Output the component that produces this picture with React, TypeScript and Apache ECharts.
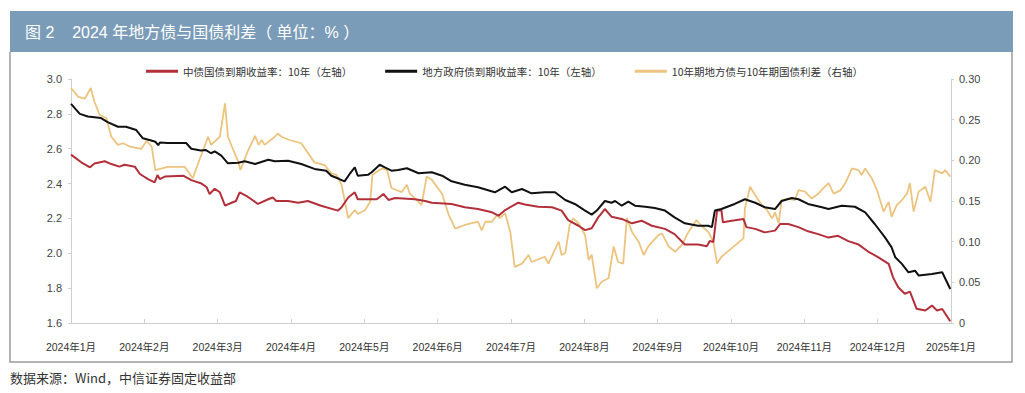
import React, { useEffect, useRef } from 'react';
import * as echarts from 'echarts';

const titleText = '图 2    2024 年地方债与国债利差（ 单位：% ）';
const footerText = '数据来源：Wind，中信证券固定收益部';

const monthLabels = [
  '2024年1月', '2024年2月', '2024年3月', '2024年4月', '2024年5月', '2024年6月', '2024年7月',
  '2024年8月', '2024年9月', '2024年10月', '2024年11月', '2024年12月', '2025年1月',
];

const seriesNames = [
  '中债国债到期收益率：10年（左轴）',
  '地方政府债到期收益率：10年（左轴）',
  '10年期地方债与10年期国债利差（右轴）',
];

// [position in months since 2024-01, value]
const chinaBond10Y: [number, number][] = [
  [0.0, 2.566], [0.14, 2.522], [0.26, 2.493], [0.32, 2.515], [0.46, 2.528], [0.55, 2.512], [0.66, 2.497],
  [0.73, 2.508], [0.87, 2.497], [0.94, 2.455], [1.05, 2.426], [1.14, 2.407], [1.18, 2.449], [1.21, 2.426],
  [1.28, 2.44], [1.53, 2.445], [1.64, 2.42], [1.78, 2.4], [1.85, 2.379], [1.89, 2.34], [1.96, 2.37],
  [2.03, 2.35], [2.1, 2.273], [2.19, 2.29], [2.25, 2.3], [2.3, 2.35], [2.39, 2.33], [2.55, 2.283],
  [2.69, 2.31], [2.75, 2.32], [2.8, 2.3], [2.96, 2.3], [3.1, 2.29], [3.23, 2.3], [3.41, 2.273],
  [3.64, 2.245], [3.69, 2.264], [3.78, 2.32], [3.87, 2.35], [3.91, 2.31], [4.05, 2.31], [4.17, 2.31],
  [4.26, 2.34], [4.33, 2.306], [4.42, 2.317], [4.69, 2.31], [4.83, 2.3], [4.92, 2.29], [5.19, 2.283],
  [5.37, 2.264], [5.55, 2.254], [5.74, 2.235], [5.83, 2.216], [5.92, 2.248], [6.1, 2.29], [6.19, 2.28],
  [6.37, 2.267], [6.56, 2.264], [6.69, 2.245], [6.78, 2.19], [6.92, 2.158], [7.01, 2.133], [7.1, 2.144],
  [7.19, 2.206], [7.28, 2.254], [7.37, 2.21], [7.51, 2.197], [7.65, 2.172], [7.78, 2.187], [7.92, 2.158],
  [8.1, 2.14], [8.23, 2.11], [8.37, 2.05], [8.55, 2.05], [8.67, 2.04], [8.71, 2.07], [8.76, 2.065],
  [8.81, 2.245], [8.87, 2.245], [8.89, 2.178], [9.01, 2.187], [9.17, 2.197], [9.21, 2.15], [9.33, 2.14],
  [9.46, 2.12], [9.6, 2.13], [9.67, 2.168], [9.78, 2.168], [9.92, 2.15], [10.05, 2.126], [10.19, 2.11],
  [10.33, 2.09], [10.46, 2.1], [10.6, 2.07], [10.74, 2.05], [10.87, 2.01], [11.01, 1.977], [11.15, 1.939],
  [11.21, 1.862], [11.28, 1.805], [11.37, 1.768], [11.44, 1.78], [11.53, 1.682], [11.65, 1.672],
  [11.74, 1.7], [11.81, 1.672], [11.88, 1.68], [11.99, 1.61],
];

const localBond10Y: [number, number][] = [
  [0.0, 2.857], [0.12, 2.8], [0.23, 2.785], [0.41, 2.776], [0.5, 2.753], [0.64, 2.726], [0.75, 2.726],
  [0.89, 2.707], [0.98, 2.66], [1.07, 2.65], [1.15, 2.64], [1.19, 2.62], [1.21, 2.635], [1.32, 2.633],
  [1.57, 2.633], [1.64, 2.6], [1.77, 2.59], [1.84, 2.592], [1.91, 2.574], [1.96, 2.585], [2.05, 2.56],
  [2.14, 2.516], [2.28, 2.52], [2.37, 2.528], [2.51, 2.512], [2.69, 2.537], [2.78, 2.528], [2.96, 2.531],
  [3.14, 2.512], [3.32, 2.484], [3.48, 2.474], [3.55, 2.445], [3.66, 2.426], [3.73, 2.413], [3.8, 2.455],
  [3.87, 2.493], [3.91, 2.445], [4.05, 2.45], [4.1, 2.465], [4.21, 2.508], [4.28, 2.493], [4.37, 2.474],
  [4.46, 2.478], [4.58, 2.488], [4.74, 2.459], [4.92, 2.465], [5.06, 2.445], [5.19, 2.413], [5.37, 2.393],
  [5.55, 2.379], [5.78, 2.35], [5.92, 2.382], [6.01, 2.35], [6.15, 2.369], [6.28, 2.344], [6.46, 2.35],
  [6.6, 2.35], [6.74, 2.306], [6.87, 2.283], [7.01, 2.245], [7.1, 2.222], [7.17, 2.245], [7.28, 2.3],
  [7.37, 2.29], [7.42, 2.3], [7.51, 2.273], [7.6, 2.296], [7.69, 2.273], [7.83, 2.267], [7.96, 2.26],
  [8.1, 2.245], [8.23, 2.206], [8.37, 2.172], [8.55, 2.158], [8.69, 2.158], [8.74, 2.15], [8.78, 2.245],
  [8.87, 2.254], [9.05, 2.283], [9.19, 2.31], [9.33, 2.29], [9.46, 2.264], [9.6, 2.254], [9.69, 2.3],
  [9.83, 2.317], [9.92, 2.31], [10.05, 2.283], [10.24, 2.264], [10.33, 2.254], [10.51, 2.273],
  [10.69, 2.267], [10.83, 2.235], [10.96, 2.168], [11.1, 2.091], [11.19, 2.034], [11.24, 1.977],
  [11.33, 1.939], [11.42, 1.891], [11.51, 1.9], [11.56, 1.872], [11.74, 1.881], [11.88, 1.891],
  [11.99, 1.795],
];

const spread10Y: [number, number][] = [
  [0.0, 0.289], [0.1, 0.278], [0.19, 0.276], [0.27, 0.289], [0.32, 0.272], [0.39, 0.256], [0.48, 0.252],
  [0.55, 0.229], [0.64, 0.219], [0.71, 0.221], [0.8, 0.217], [0.96, 0.214], [1.03, 0.224], [1.1, 0.217],
  [1.15, 0.188], [1.32, 0.192], [1.55, 0.192], [1.66, 0.178], [1.76, 0.2025], [1.87, 0.229], [1.91, 0.219],
  [2.03, 0.229], [2.1, 0.27], [2.14, 0.229], [2.28, 0.198], [2.31, 0.188], [2.41, 0.211], [2.51, 0.23],
  [2.56, 0.219], [2.6, 0.225], [2.64, 0.219], [2.78, 0.229], [2.82, 0.233], [2.87, 0.229], [2.98, 0.225],
  [3.14, 0.221], [3.32, 0.1975], [3.46, 0.194], [3.55, 0.184], [3.62, 0.182], [3.69, 0.17], [3.78, 0.129],
  [3.87, 0.139], [3.91, 0.134], [4.01, 0.139], [4.08, 0.149], [4.11, 0.182], [4.17, 0.186], [4.24, 0.19],
  [4.31, 0.188], [4.37, 0.166], [4.51, 0.161], [4.58, 0.17], [4.62, 0.159], [4.74, 0.149], [4.78, 0.145],
  [4.85, 0.18], [4.92, 0.176], [5.06, 0.159], [5.15, 0.133], [5.24, 0.116], [5.37, 0.1205], [5.55, 0.1245],
  [5.6, 0.114], [5.65, 0.1245], [5.74, 0.1245], [5.81, 0.133], [5.85, 0.129], [5.92, 0.135], [5.99, 0.112],
  [6.05, 0.069], [6.15, 0.073], [6.24, 0.0836], [6.28, 0.075], [6.46, 0.0815], [6.51, 0.073], [6.65, 0.1],
  [6.69, 0.0836], [6.74, 0.086], [6.8, 0.1205], [6.85, 0.1287], [6.92, 0.1226], [7.01, 0.108], [7.06, 0.0775],
  [7.1, 0.084], [7.15, 0.055], [7.17, 0.0427], [7.24, 0.051], [7.33, 0.055], [7.4, 0.094], [7.46, 0.075],
  [7.53, 0.073], [7.58, 0.129], [7.65, 0.112], [7.74, 0.1], [7.81, 0.0836], [7.87, 0.094], [8.01, 0.108],
  [8.06, 0.11], [8.15, 0.094], [8.24, 0.0877], [8.33, 0.096], [8.42, 0.112], [8.53, 0.1266], [8.6, 0.119],
  [8.69, 0.112], [8.76, 0.1], [8.81, 0.073], [8.87, 0.0815], [9.01, 0.092], [9.17, 0.104], [9.19, 0.141],
  [9.26, 0.1676], [9.33, 0.157], [9.42, 0.145], [9.49, 0.139], [9.56, 0.1287], [9.6, 0.136], [9.65, 0.1226],
  [9.69, 0.151], [9.78, 0.153], [9.87, 0.151], [9.92, 0.1635], [10.01, 0.1615], [10.1, 0.153], [10.19, 0.159],
  [10.28, 0.1676], [10.33, 0.172], [10.4, 0.159], [10.49, 0.163], [10.56, 0.172], [10.65, 0.19],
  [10.74, 0.188], [10.78, 0.182], [10.83, 0.19], [10.92, 0.178], [10.99, 0.1635], [11.08, 0.137],
  [11.15, 0.149], [11.19, 0.1306], [11.26, 0.145], [11.33, 0.151], [11.4, 0.159], [11.44, 0.172],
  [11.49, 0.137], [11.56, 0.1615], [11.65, 0.1676], [11.72, 0.149], [11.78, 0.188], [11.88, 0.184],
  [11.92, 0.188], [11.99, 0.18],
];

const FONT = '"Liberation Sans", "Noto Sans CJK SC", sans-serif';
const CJK = '"Noto Sans CJK SC", "Liberation Sans", sans-serif';

export default function App() {
  const ref = useRef<HTMLDivElement>(null);
  useEffect(() => {
    const chart = echarts.init(ref.current!, null, { renderer: 'svg' });
    const axisLine = { show: true, lineStyle: { color: '#cfcfcf', width: 1 } };
    chart.setOption({
      animation: false,
      backgroundColor: '#ffffff',
      textStyle: { fontFamily: FONT },
      graphic: [
        { type: 'rect', shape: { x: 10, y: 11, width: 1003, height: 41 }, style: { fill: '#7a9cb8' } },
        {
          type: 'text', x: 25, y: 32,
          style: { text: titleText, fill: '#ffffff', fontSize: 16, fontFamily: FONT, verticalAlign: 'middle' },
        },
        {
          type: 'polyline',
          shape: { points: [[10, 52], [10, 362], [1012, 362], [1012, 52]] },
          style: { stroke: '#9c9c9c', lineWidth: 1.5, fill: 'none' },
        },
        {
          type: 'text', x: 10, y: 377,
          style: { text: footerText, fill: '#333333', fontSize: 13, fontFamily: CJK, verticalAlign: 'middle' },
        },
      ],
      legend: {
        left: 141,
        top: 61,
        itemWidth: 32,
        itemHeight: 3,
        itemGap: 33,
        icon: 'rect',
        textStyle: { fontSize: 10.5, color: '#333333', fontFamily: CJK },
        data: seriesNames,
      },
      grid: { left: 71, right: 74, top: 79, height: 244, containLabel: false },
      xAxis: {
        type: 'value',
        min: 0,
        max: 12,
        interval: 1,
        axisLine,
        axisTick: { show: true, inside: true, length: 4, lineStyle: { color: '#cfcfcf' } },
        splitLine: { show: false },
        axisLabel: {
          margin: 19,
          fontSize: 10.5,
          color: '#333333',
          fontFamily: FONT,
          formatter: (v: number) => monthLabels[Math.round(v)] ?? '',
        },
      },
      yAxis: [
        {
          type: 'value',
          min: 1.6,
          max: 3.0,
          interval: 0.2,
          position: 'left',
          axisLine,
          axisTick: { show: true, length: 3, lineStyle: { color: '#cfcfcf' } },
          splitLine: { show: false },
          axisLabel: {
            margin: 9, fontSize: 11, color: '#444444', fontFamily: FONT,
            formatter: (v: number) => v.toFixed(1),
          },
        },
        {
          type: 'value',
          min: 0,
          max: 0.3,
          interval: 0.05,
          position: 'right',
          axisLine,
          axisTick: { show: true, length: 3, lineStyle: { color: '#cfcfcf' } },
          splitLine: { show: false },
          axisLabel: {
            margin: 8, fontSize: 11, color: '#444444', fontFamily: FONT,
            formatter: (v: number) => (v === 0 ? '0' : v.toFixed(2)),
          },
        },
      ],
      series: [
        {
          name: seriesNames[2], type: 'line', yAxisIndex: 1, data: spread10Y, showSymbol: false,
          lineStyle: { color: '#ecc47f', width: 1.8 }, itemStyle: { color: '#ecc47f' }, z: 1,
        },
        {
          name: seriesNames[0], type: 'line', yAxisIndex: 0, data: chinaBond10Y, showSymbol: false,
          lineStyle: { color: '#b3303b', width: 2 }, itemStyle: { color: '#b3303b' }, z: 2,
        },
        {
          name: seriesNames[1], type: 'line', yAxisIndex: 0, data: localBond10Y, showSymbol: false,
          lineStyle: { color: '#111111', width: 2 }, itemStyle: { color: '#111111' }, z: 3,
        },
      ],
    });
    return () => chart.dispose();
  }, []);
  return (
    <div
      ref={ref}
      style={{ position: 'absolute', left: 0, top: 0, width: 1025, height: 393, background: '#ffffff' }}
    />
  );
}
